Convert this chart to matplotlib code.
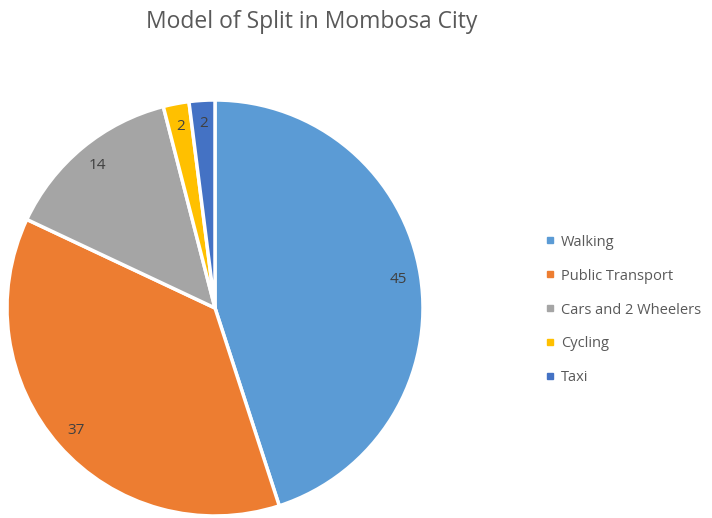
import matplotlib.pyplot as plt
from matplotlib.lines import Line2D

plt.rcParams['font.family'] = ['Open Sans', 'DejaVu Sans']

labels = ['Walking', 'Public Transport', 'Cars and 2 Wheelers', 'Cycling', 'Taxi']
values = [45, 37, 14, 2, 2]
colors = ['#5B9BD5', '#ED7D31', '#A5A5A5', '#FFC000', '#4472C4']

fig = plt.figure(figsize=(7.12, 5.18), dpi=100)
ax = fig.add_axes([7 / 712, 2 / 518, 416 / 712, 416 / 518])

wedges, texts = ax.pie(values, colors=colors, startangle=90, counterclock=False,
                       labels=[str(v) for v in values], labeldistance=0.89,
                       wedgeprops=dict(edgecolor='white', linewidth=2.5),
                       textprops=dict(color='#404040', fontsize=11))
for t in texts:
    t.set_ha('center')
ax.set_xlim(-1.0, 1.0)
ax.set_ylim(-1.0, 1.0)
ax.set_aspect('equal')

fig.text(312 / 712, 1 - 22 / 518, 'Model of Split in Mombosa City', ha='center', va='center',
         fontsize=16.5, color='#595959')

handles = [Line2D([], [], marker='s', linestyle='none', markersize=5,
                  markerfacecolor=c, markeredgecolor=c) for c in colors]
fig.legend(handles, labels, loc='center left', bbox_to_anchor=(532 / 712, 1 - 310 / 518),
           frameon=False, fontsize=10.5, labelcolor='#595959', handlelength=0.6,
           handletextpad=0.5, labelspacing=1.3)

fig.savefig('out.png', dpi=100, facecolor='white')
